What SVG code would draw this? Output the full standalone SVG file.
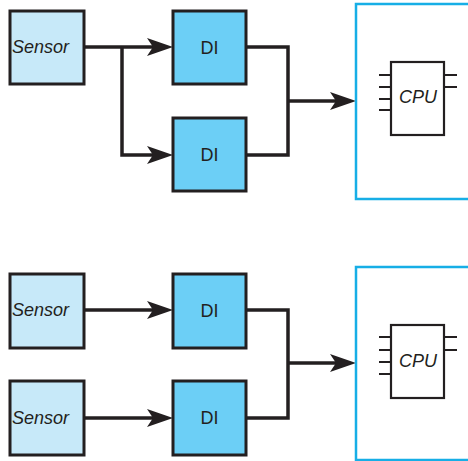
<svg xmlns="http://www.w3.org/2000/svg" width="468" height="461" viewBox="0 0 468 461">
<style>
.sensor{fill:#c7e9f9;stroke:#231f20;stroke-width:3}
.di{fill:#6ccff6;stroke:#231f20;stroke-width:3}
.sys{fill:#fff;stroke:#17aee6;stroke-width:2.5}
.cpu{fill:#fff;stroke:#231f20;stroke-width:2.2}
.pin{stroke:#231f20;stroke-width:2;fill:none}
.wire{fill:none;stroke:#231f20;stroke-width:3.5}
.lbl{font-family:"Liberation Sans",Arial,sans-serif;font-size:18px;fill:#231f20}
.it{font-style:italic}
</style>
<defs>
<marker id="ah" viewBox="0 0 26 18" refX="16" refY="9" markerWidth="26" markerHeight="18" markerUnits="userSpaceOnUse" orient="auto">
<path d="M0,0 L26,9 L0,18 L6,9 Z" fill="#231f20"/>
</marker>
</defs>
<rect width="468" height="461" fill="#fff"/>
<g id="connectors">
<path class="wire" d="M84,47 H163" marker-end="url(#ah)"/>
<path class="wire" d="M122,47 V155 H163" marker-end="url(#ah)"/>
<path class="wire" d="M246,47 H288 V155 H246"/>
<path class="wire" d="M288,101 H346" marker-end="url(#ah)"/>
<path class="wire" d="M84,310 H163" marker-end="url(#ah)"/>
<path class="wire" d="M84,418 H163" marker-end="url(#ah)"/>
<path class="wire" d="M246,310 H288 V418 H246"/>
<path class="wire" d="M288,363 H346" marker-end="url(#ah)"/>
</g>
<g id="sensor1"><rect class="sensor" x="10" y="11" width="74" height="73"/><text class="lbl it" x="12" y="53">Sensor</text></g>
<g id="di1"><rect class="di" x="173" y="11" width="73" height="73"/><text class="lbl" x="209.5" y="54" text-anchor="middle">DI</text></g>
<g id="di2"><rect class="di" x="173" y="118" width="73" height="73"/><text class="lbl" x="209.5" y="161" text-anchor="middle">DI</text></g>
<g id="system1">
<rect class="sys" x="356" y="4" width="130" height="195"/>
<rect class="cpu" x="391" y="62" width="53" height="73"/>
<path class="pin" d="M379,75 H391 M379,87 H391 M379,99 H391 M379,110 H391 M444,75 H457 M444,87 H457"/>
<text class="lbl it" x="418" y="103" text-anchor="middle">CPU</text>
</g>
<g id="sensor2"><rect class="sensor" x="10" y="274" width="74" height="74"/><text class="lbl it" x="12" y="316">Sensor</text></g>
<g id="sensor3"><rect class="sensor" x="10" y="381" width="74" height="74"/><text class="lbl it" x="12" y="424">Sensor</text></g>
<g id="di3"><rect class="di" x="173" y="274" width="73" height="74"/><text class="lbl" x="209.5" y="317" text-anchor="middle">DI</text></g>
<g id="di4"><rect class="di" x="173" y="381" width="73" height="74"/><text class="lbl" x="209.5" y="424" text-anchor="middle">DI</text></g>
<g id="system2">
<rect class="sys" x="356" y="267" width="130" height="193"/>
<rect class="cpu" x="391" y="325" width="53" height="73"/>
<path class="pin" d="M379,337 H391 M379,350 H391 M379,362 H391 M379,374 H391 M444,337 H457 M444,350 H457"/>
<text class="lbl it" x="418" y="367" text-anchor="middle">CPU</text>
</g>
</svg>
